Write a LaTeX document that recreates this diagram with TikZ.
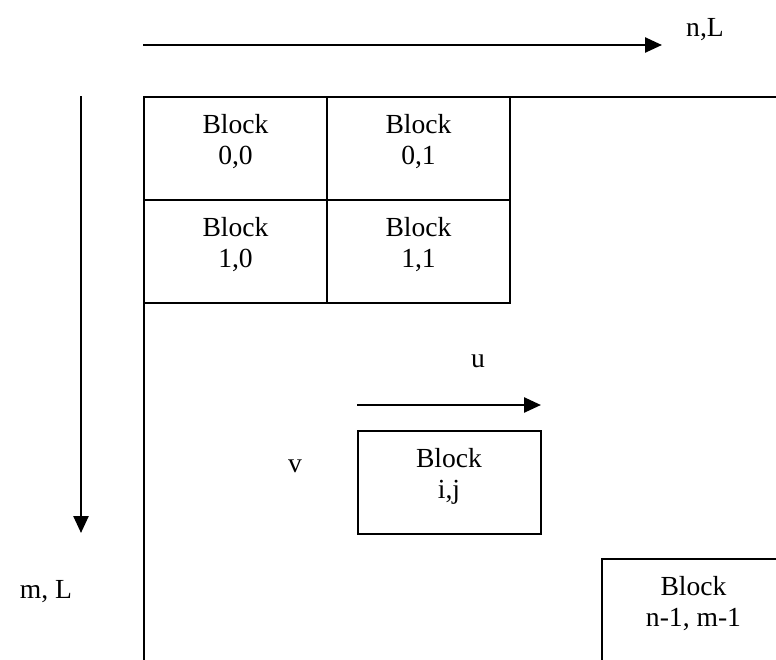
\documentclass[tikz,border=0pt]{standalone}
\usepackage{fontspec}
\setmainfont{Liberation Serif}
\usetikzlibrary{arrows.meta}

\begin{document}
\begin{tikzpicture}[x=1pt,y=-1pt,
  frame/.style={line width=2pt},
  cell/.style={draw,line width=2pt,rectangle,minimum width=183pt,minimum height=103pt,inner sep=0pt},
  lbl/.style={align=center,inner sep=0pt,font=\fontsize{27.6}{31}\selectfont},
  axis/.style={line width=2.5pt,-{Triangle[length=17pt,width=15pt]}},
  txt/.style={inner sep=0pt,anchor=base,font=\fontsize{27.6}{31}\selectfont}]
\useasboundingbox (0,0) rectangle (776,659);
\clip (0,0) rectangle (776,659);

% axis arrows and their labels
\coordinate (nstart) at (143,45);
\coordinate (nend) at (662,45);
\draw[axis] (nstart) -- (nend);
\node[txt] (nlabel) at (705,36) {n,L};

\coordinate (mstart) at (81,96);
\coordinate (mend) at (81,533);
\draw[axis] (mstart) -- (mend);
\node[txt] (mlabel) at (46,598) {m, L};

% outer matrix border (runs off the right and bottom)
\coordinate (fr) at (800,97);
\coordinate (fc) at (144,97);
\coordinate (fb) at (144,680);
\draw[frame] (fr) -- (fc) -- (fb);

% first 2x2 blocks
\node[cell] (c00) at (235.5,148.5) {};
\node[cell] (c01) at (418.5,148.5) {};
\node[cell] (c10) at (235.5,251.5) {};
\node[cell] (c11) at (418.5,251.5) {};
\node[lbl] (t00) at ([yshift=6.5pt]c00.center) {Block\\0,0};
\node[lbl] (t01) at ([yshift=6.5pt]c01.center) {Block\\0,1};
\node[lbl] (t10) at ([yshift=6.5pt]c10.center) {Block\\1,0};
\node[lbl] (t11) at ([yshift=6.5pt]c11.center) {Block\\1,1};

% generic block i,j
\coordinate (ustart) at (357,405);
\coordinate (uend) at (541,405);
\draw[axis] (ustart) -- (uend);
\node[txt] (ulabel) at (478,367) {u};
\node[txt] (vlabel) at (295,472) {v};
\node[cell] (cij) at (449,482.5) {};
\node[lbl] (tij) at ([yshift=6.5pt]cij.center) {Block\\i,j};

% last block
\node[cell] (clast) at (693.5,610.5) {};
\node[lbl] (tlast) at ([yshift=6.5pt]clast.center) {Block\\n-1, m-1};
\end{tikzpicture}
\end{document}
